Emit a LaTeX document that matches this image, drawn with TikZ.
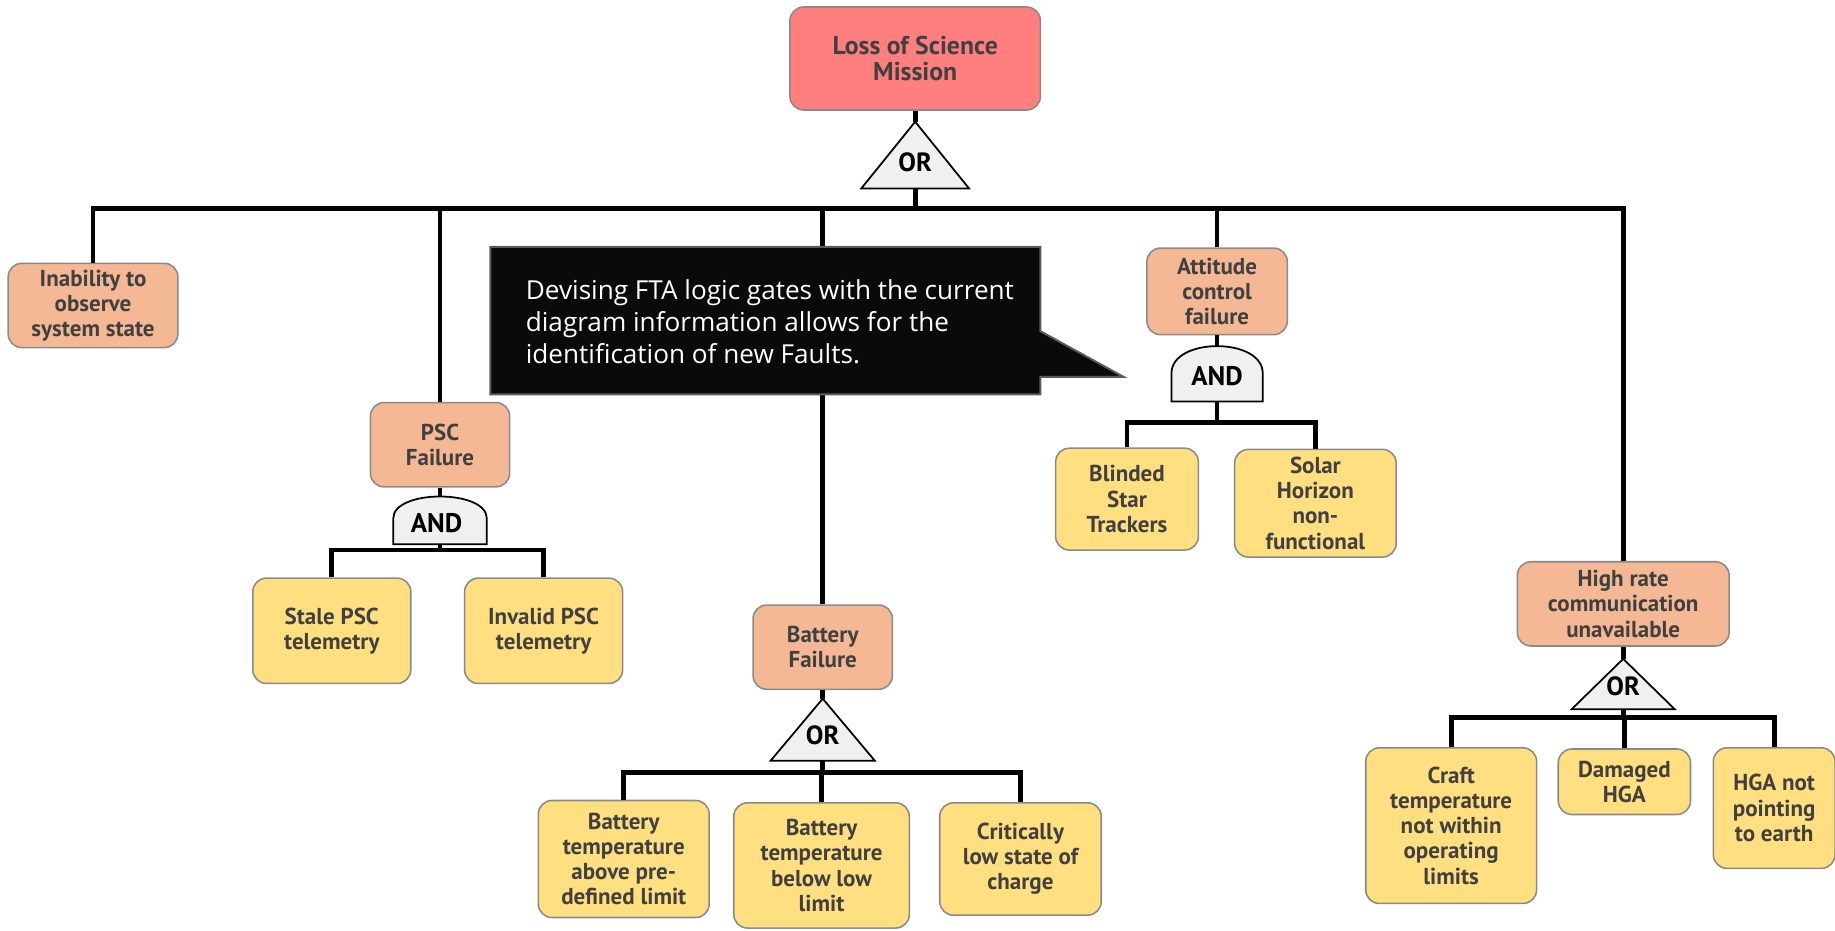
\documentclass[tikz,border=0pt]{standalone}
\usepackage{fontspec}
\setmainfont{PT Sans}
\newfontfamily\calloutfont{Open Sans}
\definecolor{topred}{HTML}{FF7F7F}
\definecolor{peach}{HTML}{F4B994}
\definecolor{lemon}{HTML}{FFDF80}
\definecolor{edgegray}{HTML}{8A8A8A}
\definecolor{inkgray}{HTML}{404040}
\definecolor{gatefill}{HTML}{F0F0F0}
\definecolor{callbg}{HTML}{0A0A0A}
\definecolor{callrim}{HTML}{5A5A5A}
\begin{document}
\begin{tikzpicture}[x=0.6pt,y=-0.6pt,
  evt/.style={draw=edgegray, line width=0.8pt, rounded corners=7pt, align=center,
    text=inkgray, inner sep=2pt, font=\bfseries\fontsize{11.8}{12.9}\selectfont},
  sz/.style 2 args={minimum width=#1*0.6pt, minimum height=#2*0.6pt},
  topevt/.style={evt, fill=topred, font=\bfseries\fontsize{13.2}{13.8}\selectfont},
  midevt/.style={evt, fill=peach},
  basic/.style={evt, fill=lemon},
  conn/.style={line width=2.4pt},
  gate/.style={draw=black, line width=0.9pt, fill=gatefill, line join=miter},
  gatelbl/.style={font=\bfseries\fontsize{13.5}{15}\selectfont, text=black, inner sep=0pt},
  andlbl/.style={gatelbl, font=\bfseries\fontsize{13.8}{15}\selectfont},
  callout/.style={fill=callbg, draw=callrim, line width=1pt},
  calltext/.style={font=\calloutfont\fontsize{13.4}{16.2}\selectfont, text=white,
    align=left, inner sep=0pt},
]
\useasboundingbox (0,0) rectangle (1568,795);

% ---- events ----
\node[topevt, sz={214}{88}] (top) at (782,50) {Loss of Science\\Mission};

\node[midevt, sz={145}{72}] (inab) at (79.5,261) {Inability to\\observe\\system state};
\node[midevt, sz={119}{72}] (psc) at (376,380) {PSC\\Failure};
\node[midevt, sz={120}{74}] (att) at (1040,249) {Attitude\\control\\failure};
\node[midevt, sz={119}{72}] (batt) at (703,553) {Battery\\Failure};
\node[midevt, sz={181}{72}] (high) at (1387,516) {High rate\\communication\\unavailable};

\node[basic, sz={135}{90}] (stale) at (283.5,539) {Stale PSC\\telemetry};
\node[basic, sz={135}{90}] (invalid) at (464.5,539) {Invalid PSC\\telemetry};

\node[basic, sz={122}{87}] (blind) at (963,426.5) {Blinded\\Star\\Trackers};
\node[basic, sz={138}{92}] (solar) at (1124,430) {Solar\\Horizon\\non-\\functional};

\node[basic, sz={146}{100}] (batA) at (533,734) {Battery\\temperature\\above pre-\\defined limit};
\node[basic, sz={150}{107}] (batB) at (702,739.5) {Battery\\temperature\\below low\\limit};
\node[basic, sz={138}{96}] (crit) at (872,734) {Critically\\low state of\\charge};

\node[basic, sz={146}{133}] (craft) at (1240,705.5) {Craft\\temperature\\not within\\operating\\limits};
\node[basic, sz={113}{56}] (dmg) at (1388,668) {Damaged\\HGA};
\node[basic, sz={104}{103}] (hga) at (1516,690.5) {HGA not\\pointing\\to earth};

% ---- gate terminals and bus levels ----
\coordinate (g0t) at (782,104);  \coordinate (g0b) at (782,161);  \coordinate (bus0) at (782,178);
\coordinate (g1t) at (376,424);  \coordinate (g1b) at (376,465);  \coordinate (bus1) at (376,470);
\coordinate (g2t) at (1040,296); \coordinate (g2b) at (1040,343); \coordinate (bus2) at (1040,361);
\coordinate (g3t) at (703,597);  \coordinate (g3b) at (703,650);  \coordinate (bus3) at (703,660);
\coordinate (g4t) at (1387,563); \coordinate (g4b) at (1387,606); \coordinate (bus4) at (1387,613);

% ---- connectors ----
\draw[conn] (top.south) -- (g0t);
\draw[conn] (g0b) -- (bus0);
\foreach \c in {inab,psc,batt,att,high} \draw[conn] (\c.north) |- (bus0);

\draw[conn] (psc.south) -- (g1t);
\draw[conn] (g1b) -- (bus1);
\foreach \c in {stale,invalid} \draw[conn] (\c.north) |- (bus1);

\draw[conn] (att.south) -- (g2t);
\draw[conn] (g2b) -- (bus2);
\foreach \c in {blind,solar} \draw[conn] (\c.north) |- (bus2);

\draw[conn] (batt.south) -- (g3t);
\draw[conn] (g3b) -- (bus3);
\foreach \c in {batA,batB,crit} \draw[conn] (\c.north) |- (bus3);

\draw[conn] (high.south) -- (g4t);
\draw[conn] (g4b) -- (bus4);
\foreach \c in {craft,dmg,hga} \draw[conn] (\c.north) |- (bus4);

% ---- gates ----
% OR gates: triangles
\draw[gate] (g0t) -- (828,161) -- (736,161) -- cycle;
\node[gatelbl] (gor0) at (782,139) {OR};
\draw[gate] (g3t) -- (747.5,650) -- (658.5,650) -- cycle;
\node[gatelbl] (gor3) at (703,628) {OR};
\draw[gate] (g4t) -- (1431,606) -- (1343,606) -- cycle;
\node[gatelbl] (gor4) at (1387,586) {OR};
% AND gates: flat base with a domed top
\draw[gate] (336,465) -- (336,443) .. controls (336,418) and (416,418) .. (416,443) -- (416,465) -- cycle;
\node[andlbl] (gand1) at (373,447) {AND};
\draw[gate] (1001,343) -- (1001,319) .. controls (1001,288) and (1079,288) .. (1079,319) -- (1079,343) -- cycle;
\node[andlbl] (gand2) at (1040,321) {AND};

% ---- note balloon ----
\draw[callout, line join=miter] (419,211) -- (889,211) -- (889,283) -- (960,322) -- (889,322)
  -- (889,337) -- (419,337) -- cycle;
\node[calltext, anchor=west] (note) at (449,275)
  {Devising FTA logic gates with the current\\diagram information allows for the\\identification of new Faults.};
\end{tikzpicture}
\end{document}
